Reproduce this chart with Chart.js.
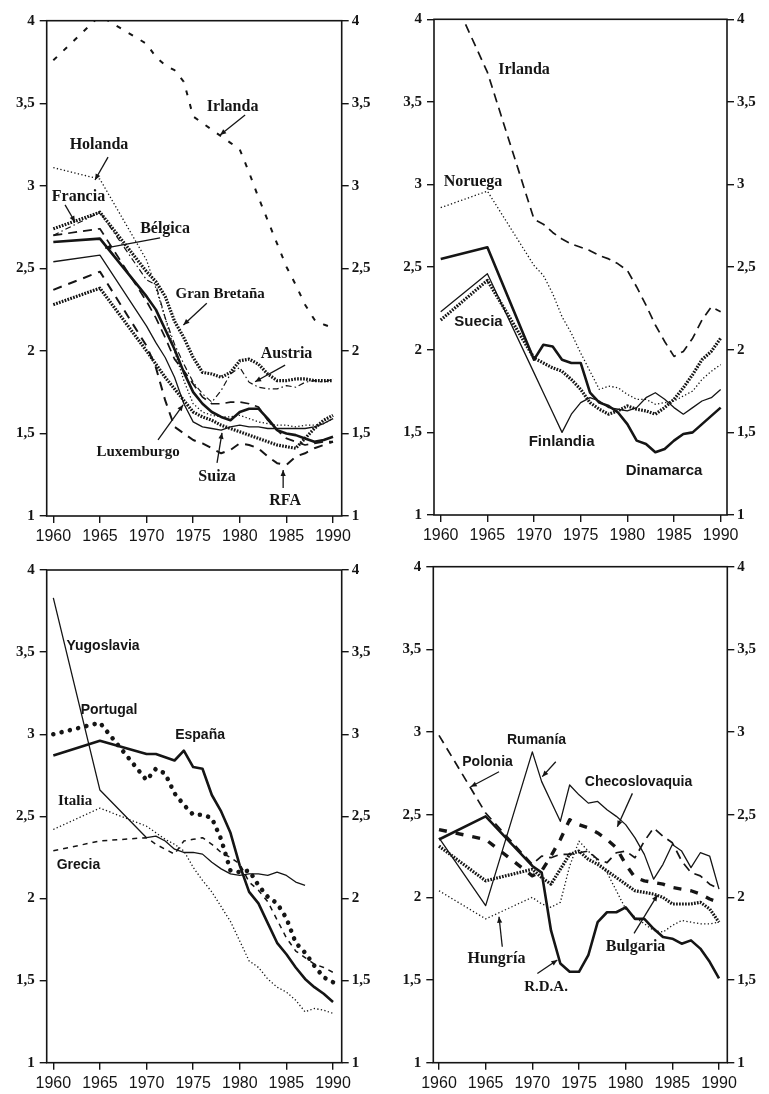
<!DOCTYPE html>
<html><head><meta charset="utf-8">
<script src="https://cdn.jsdelivr.net/npm/chart.js@4.4.1/dist/chart.umd.min.js"></script>
<style>
html,body{margin:0;padding:0;background:#fff;}
body{width:769px;height:1094px;position:relative;overflow:hidden;}
canvas{position:absolute;}
</style></head><body>
<canvas id="c1" width="384" height="547" style="left:0;top:0"></canvas>
<canvas id="c2" width="385" height="547" style="left:384px;top:0"></canvas>
<canvas id="c3" width="384" height="547" style="left:0;top:547px"></canvas>
<canvas id="c4" width="385" height="547" style="left:384px;top:547px"></canvas>
<script>
// ---------- DATA ----------
const years = [1960,1965,1970,1971,1972,1973,1974,1975,1976,1977,1978,1979,1980,1981,1982,1983,1984,1985,1986,1987,1988,1989,1990];
const xTickValues = [1960,1965,1970,1975,1980,1985,1990];
const xTickLabels = ['1960','1965','1970','1975','1980','1985','1990'];
const yTickValues = [1,1.5,2,2.5,3,3.5,4];
const yTickLabels = ['1','1,5','2','2,5','3','3,5','4'];

// Panel 1 (top left)
const tlIrlanda    = [3.76,4.03,3.86,3.78,3.73,3.70,3.63,3.42,3.38,3.34,3.30,3.26,3.22,3.08,2.93,2.79,2.65,2.51,2.40,2.28,2.19,2.16,2.14];
const tlHolanda    = [3.11,3.04,2.55,2.38,2.20,2.00,1.82,1.68,1.63,1.61,1.60,1.60,1.61,1.59,1.57,1.56,1.55,1.55,1.54,1.55,1.55,1.56,1.59];
const tlFrancia    = [2.74,2.84,2.48,2.42,2.33,2.18,2.08,1.96,1.87,1.86,1.84,1.87,1.94,1.95,1.92,1.86,1.82,1.82,1.83,1.83,1.82,1.82,1.82];
const tlGranBretana= [2.70,2.84,2.43,2.40,2.20,2.04,1.92,1.81,1.74,1.69,1.76,1.86,1.90,1.81,1.78,1.77,1.77,1.79,1.78,1.81,1.82,1.81,1.83];
const tlBelgica    = [2.66,2.68,2.33,2.25,2.13,2.01,1.87,1.75,1.68,1.63,1.60,1.58,1.63,1.65,1.65,1.59,1.52,1.50,1.49,1.47,1.45,1.46,1.48];
const tlSuiza      = [2.54,2.58,2.15,2.05,1.96,1.84,1.68,1.57,1.54,1.53,1.52,1.54,1.55,1.54,1.54,1.53,1.53,1.53,1.53,1.53,1.54,1.56,1.59];
const tlAustria    = [2.70,2.74,2.30,2.20,2.08,1.95,1.88,1.80,1.72,1.68,1.68,1.69,1.69,1.68,1.66,1.58,1.52,1.47,1.45,1.43,1.44,1.45,1.45];
const tlLuxemburgo = [2.28,2.38,2.00,1.92,1.84,1.77,1.70,1.63,1.60,1.58,1.55,1.53,1.51,1.49,1.47,1.45,1.43,1.42,1.41,1.47,1.53,1.58,1.61];
const tlRFA        = [2.37,2.48,2.03,1.90,1.70,1.54,1.50,1.46,1.44,1.41,1.38,1.40,1.44,1.43,1.41,1.36,1.32,1.31,1.36,1.38,1.41,1.43,1.45];

// Panel 2 (top right)
const trIrlanda    = [4.30,3.68,2.79,2.76,2.71,2.67,2.64,2.62,2.60,2.57,2.55,2.52,2.48,2.38,2.27,2.15,2.05,1.96,1.99,2.07,2.18,2.26,2.23];
const trNoruega    = [2.86,2.96,2.51,2.45,2.34,2.20,2.10,1.98,1.87,1.76,1.78,1.77,1.73,1.70,1.70,1.67,1.68,1.69,1.72,1.75,1.82,1.87,1.91];
const trDinamarca  = [2.55,2.62,1.94,2.03,2.02,1.94,1.92,1.92,1.74,1.68,1.66,1.62,1.55,1.45,1.43,1.38,1.40,1.45,1.49,1.50,1.55,1.60,1.65];
const trSuecia     = [2.18,2.42,1.95,1.92,1.89,1.87,1.82,1.76,1.68,1.64,1.61,1.63,1.66,1.64,1.63,1.61,1.65,1.70,1.77,1.85,1.94,1.99,2.07];
const trFinlandia  = [2.23,2.46,1.86,1.74,1.62,1.50,1.61,1.68,1.71,1.69,1.65,1.64,1.63,1.65,1.71,1.74,1.70,1.65,1.61,1.65,1.69,1.71,1.76];

// Panel 3 (bottom left)
const blYugoslavia = [3.83,2.66,2.37,2.38,2.35,2.30,2.28,2.28,2.27,2.22,2.18,2.15,2.14,2.15,2.15,2.14,2.16,2.14,2.10,2.08,null,null,null];
const blPortugal   = [3.00,3.07,2.72,2.79,2.76,2.64,2.57,2.51,2.51,2.49,2.36,2.17,2.16,2.17,2.08,2.01,1.97,1.88,1.73,1.67,1.59,1.52,1.49];
const blEspana     = [2.87,2.96,2.88,2.88,2.86,2.84,2.90,2.80,2.79,2.63,2.53,2.40,2.20,2.04,1.97,1.85,1.73,1.66,1.58,1.51,1.46,1.42,1.37];
const blItalia     = [2.42,2.55,2.44,2.40,2.36,2.33,2.29,2.19,2.11,2.04,1.95,1.86,1.74,1.62,1.58,1.51,1.46,1.43,1.38,1.31,1.33,1.32,1.30];
const blGrecia     = [2.29,2.35,2.37,2.33,2.30,2.27,2.35,2.36,2.37,2.33,2.28,2.25,2.21,2.10,2.05,1.98,1.87,1.76,1.68,1.64,1.60,1.58,1.55];

// Panel 4 (bottom right)
const brRDA        = [2.35,2.49,2.19,2.15,1.80,1.60,1.55,1.55,1.65,1.85,1.91,1.91,1.94,1.87,1.87,1.81,1.76,1.75,1.72,1.74,1.69,1.61,1.51];
const brRumania    = [2.36,1.95,2.88,2.70,2.58,2.46,2.68,2.62,2.57,2.58,2.53,2.49,2.44,2.36,2.26,2.11,2.20,2.32,2.28,2.18,2.27,2.25,2.05];
const brPolonia    = [2.98,2.51,2.20,2.25,2.24,2.26,2.26,2.27,2.28,2.23,2.21,2.27,2.28,2.24,2.34,2.42,2.37,2.33,2.22,2.15,2.13,2.08,2.05];
const brChecoslovaquia = [2.41,2.35,2.13,2.16,2.25,2.35,2.47,2.44,2.42,2.39,2.35,2.30,2.20,2.12,2.10,2.09,2.08,2.06,2.05,2.04,2.02,1.99,1.97];
const brBulgaria   = [2.31,2.10,2.17,2.12,2.08,2.17,2.26,2.28,2.23,2.20,2.16,2.12,2.08,2.04,2.03,2.02,2.00,1.96,1.96,1.96,1.97,1.93,1.85];
const brHungria    = [2.04,1.87,2.00,1.96,1.94,1.97,2.19,2.34,2.28,2.22,2.15,2.04,1.93,1.88,1.84,1.80,1.79,1.83,1.86,1.85,1.84,1.84,1.85];

// ---------- STYLES ----------
const INK = '#151515';
const ST = {
  thinSolid:  {w:1.3, dash:[]},
  thickSolid: {w:2.6, dash:[]},
  fineDot:    {w:1.3, dash:[1.3,2.3]},
  heavyDot:   {w:3.2, dash:[1.7,1.3]},
  longDash:   {w:2.0, dash:[9,7]},
  midDash:    {w:1.7, dash:[9,6]},
  sparseDash: {w:2.0, dash:[5,9]},
  dashDot:    {w:1.2, dash:[6,3,1.5,3]},
  thinDash:   {w:1.5, dash:[5,5]},
  heavyDash:  {w:3.4, dash:[8,9]},
  bigDots:    {w:4.6, dash:[0.01,8.5], cap:'round'}
};
const SERIF16 = 'bold 16px "Liberation Serif", serif';
const SERIF15 = 'bold 15px "Liberation Serif", serif';
const SANS15 = 'bold 15px "Liberation Sans", sans-serif';
const SANS14 = 'bold 14px "Liberation Sans", sans-serif';

const panels = [
  { id:'c1', area:{left:46.7,right:341.7,top:20.7,bottom:516}, xMin:1959.29, xMax:1990.93,
    series:[
      ['Irlanda', tlIrlanda, ST.sparseDash], ['Holanda', tlHolanda, ST.fineDot],
      ['Francia', tlFrancia, ST.heavyDot], ['Gran Bretaña', tlGranBretana, ST.dashDot],
      ['Bélgica', tlBelgica, ST.thickSolid], ['Suiza', tlSuiza, ST.thinSolid],
      ['Austria', tlAustria, ST.midDash], ['Luxemburgo', tlLuxemburgo, ST.heavyDot],
      ['RFA', tlRFA, ST.longDash]
    ],
    notes:[
      {t:'Irlanda', x:1979.23, y:3.477, f:SERIF16, a:[1980.57,3.429,1977.89,3.308]},
      {t:'Holanda', x:1964.90, y:3.247, f:SERIF16, a:[1965.87,3.174,1964.47,3.035]},
      {t:'Francia', x:1962.70, y:2.932, f:SERIF16, a:[1961.26,2.884,1962.33,2.781]},
      {t:'Bélgica', x:1971.98, y:2.738, f:SERIF16, a:[1971.45,2.684,1965.55,2.623]},
      {t:'Gran Bretaña', x:1977.89, y:2.345, f:SERIF15, a:[1976.46,2.288,1973.95,2.157]},
      {t:'Austria', x:1985.02, y:1.981, f:SERIF16, a:[1984.86,1.914,1981.64,1.813]},
      {t:'Luxemburgo', x:1969.09, y:1.388, f:SERIF15, a:[1971.23,1.461,1973.92,1.673]},
      {t:'Suiza', x:1977.56, y:1.237, f:SERIF16, a:[1977.56,1.322,1978.09,1.504]},
      {t:'RFA', x:1984.86, y:1.091, f:SERIF16, a:[1984.65,1.170,1984.65,1.279]}
    ]},
  { id:'c2', area:{left:50,right:343,top:19.3,bottom:515}, xMin:1959.28, xMax:1990.68,
    series:[
      ['Irlanda', trIrlanda, ST.midDash], ['Noruega', trNoruega, ST.fineDot],
      ['Dinamarca', trDinamarca, ST.thickSolid], ['Suecia', trSuecia, ST.heavyDot],
      ['Finlandia', trFinlandia, ST.thinSolid]
    ],
    notes:[
      {t:'Irlanda', x:1968.93, y:3.693, f:SERIF16},
      {t:'Noruega', x:1963.46, y:3.015, f:SERIF16},
      {t:'Suecia', x:1964.05, y:2.168, f:SANS15},
      {t:'Finlandia', x:1972.95, y:1.441, f:SANS15},
      {t:'Dinamarca', x:1983.93, y:1.266, f:SANS15}
    ]},
  { id:'c3', area:{left:46.7,right:341.7,top:23,bottom:515.7}, xMin:1959.29, xMax:1990.93,
    series:[
      ['Yugoslavia', blYugoslavia, ST.thinSolid], ['Portugal', blPortugal, ST.bigDots],
      ['España', blEspana, ST.thickSolid], ['Italia', blItalia, ST.fineDot],
      ['Grecia', blGrecia, ST.thinDash]
    ],
    notes:[
      {t:'Yugoslavia', x:1965.33, y:3.537, f:SANS14},
      {t:'Portugal', x:1965.98, y:3.147, f:SANS14},
      {t:'España', x:1975.74, y:2.995, f:SANS14},
      {t:'Italia', x:1962.33, y:2.593, f:SERIF15},
      {t:'Grecia', x:1962.70, y:2.203, f:SANS14}
    ]},
  { id:'c4', area:{left:49.3,right:343.3,top:19.7,bottom:515.7}, xMin:1959.39, xMax:1990.89,
    series:[
      ['R.D.A.', brRDA, ST.thickSolid], ['Rumanía', brRumania, ST.thinSolid],
      ['Polonia', brPolonia, ST.midDash], ['Checoslovaquia', brChecoslovaquia, ST.heavyDash],
      ['Bulgaria', brBulgaria, ST.heavyDot], ['Hungría', brHungria, ST.fineDot]
    ],
    notes:[
      {t:'Rumanía', x:1970.45, y:2.952, f:SANS14, a:[1972.51,2.820,1971.07,2.730]},
      {t:'Polonia', x:1965.20, y:2.819, f:SANS14, a:[1966.43,2.760,1963.40,2.669]},
      {t:'Checoslovaquia', x:1981.38, y:2.698, f:SANS14, a:[1980.72,2.629,1979.11,2.427]},
      {t:'Hungría', x:1966.16, y:1.627, f:SERIF16, a:[1966.78,1.701,1966.43,1.883]},
      {t:'R.D.A.', x:1971.47, y:1.458, f:SERIF15, a:[1970.54,1.540,1972.68,1.621]},
      {t:'Bulgaria', x:1981.06, y:1.699, f:SERIF16, a:[1980.90,1.782,1983.40,2.014]}
    ]}
];

function notesPlugin(notes){
  return { id:'notes', afterDraw(chart){
    const ctx = chart.ctx, a = chart.chartArea, xs = chart.scales.x, ys = chart.scales.y;
    ctx.save();
    ctx.strokeStyle = INK; ctx.lineWidth = 1.6; ctx.setLineDash([]);
    ctx.strokeRect(a.left, a.top, a.right - a.left, a.bottom - a.top);
    ctx.fillStyle = INK; ctx.textAlign = 'center'; ctx.textBaseline = 'middle';
    notes.forEach(n => {
      ctx.font = n.f;
      ctx.fillText(n.t, xs.getPixelForValue(n.x), ys.getPixelForValue(n.y));
      if (n.a) {
        const x1 = xs.getPixelForValue(n.a[0]), y1 = ys.getPixelForValue(n.a[1]);
        const x2 = xs.getPixelForValue(n.a[2]), y2 = ys.getPixelForValue(n.a[3]);
        ctx.lineWidth = 1.3;
        ctx.beginPath(); ctx.moveTo(x1, y1); ctx.lineTo(x2, y2); ctx.stroke();
        const ang = Math.atan2(y2 - y1, x2 - x1), L = 6, W = 2.6;
        ctx.beginPath();
        ctx.moveTo(x2, y2);
        ctx.lineTo(x2 - L*Math.cos(ang) + W*Math.sin(ang), y2 - L*Math.sin(ang) - W*Math.cos(ang));
        ctx.lineTo(x2 - L*Math.cos(ang) - W*Math.sin(ang), y2 - L*Math.sin(ang) + W*Math.cos(ang));
        ctx.closePath(); ctx.fill();
      }
    });
    ctx.restore();
  }};
}

panels.forEach(p => {
  const cv = document.getElementById(p.id);
  const W = cv.width, H = cv.height;
  const grid = {display:true, drawOnChartArea:false, drawTicks:true, tickLength:7, color:INK, lineWidth:1.4};
  const yTickFont = {family:'"Liberation Serif", serif', size:15, weight:'bold'};
  const yCommon = (pos, width, pad) => ({
    type:'linear', position:pos, min:1, max:4,
    grid: grid, border:{display:false},
    ticks:{autoSkip:false, padding:pad, color:INK, font:yTickFont,
      callback:(v) => { const i = yTickValues.indexOf(v); return i >= 0 ? yTickLabels[i] : ''; }},
    afterBuildTicks:(s) => { s.ticks = yTickValues.map(v => ({value:v})); },
    afterFit:(s) => { s.width = width; }
  });
  new Chart(cv, {
    type:'line',
    data:{ datasets: p.series.map(([name, vals, st]) => ({
      label:name,
      data: years.map((yr, i) => ({x:yr, y:vals[i]})),
      borderColor:INK, backgroundColor:INK,
      borderWidth:st.w, borderDash:st.dash, borderCapStyle:st.cap || 'butt',
      borderJoinStyle:'round',
      pointRadius:0, pointHoverRadius:0, fill:false, tension:0, spanGaps:false
    }))},
    options:{
      responsive:false, animation:false, devicePixelRatio:1,
      layout:{padding:{top:p.area.top, left:0, right:0, bottom:0}},
      plugins:{legend:{display:false}, tooltip:{enabled:false}},
      scales:{
        x:{ type:'linear', position:'bottom', min:p.xMin, max:p.xMax,
          grid:grid, border:{display:false},
          ticks:{autoSkip:false, maxRotation:0, padding:4, color:INK,
            font:{family:'"Liberation Sans", sans-serif', size:16},
            callback:(v) => { const i = xTickValues.indexOf(v); return i >= 0 ? xTickLabels[i] : ''; }},
          afterBuildTicks:(s) => { s.ticks = xTickValues.map(v => ({value:v})); },
          afterFit:(s) => { s.height = H - p.area.bottom; }
        },
        y: yCommon('left', p.area.left, 5),
        y2: yCommon('right', W - p.area.right, 3)
      }
    },
    plugins:[notesPlugin(p.notes)]
  });
});
</script>
</body></html>
